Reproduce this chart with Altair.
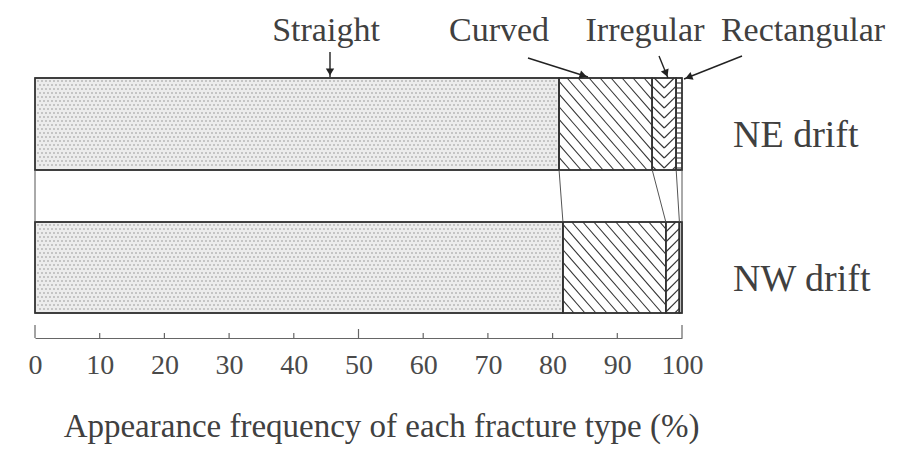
import math
import altair as alt
import pandas as pd

# ---------------- data ----------------
drifts = ["NE drift", "NW drift"]
fracture_types = ["Straight", "Curved", "Irregular", "Rectangular"]
ne_drift = [81.0, 14.4, 3.7, 0.9]
nw_drift = [81.6, 15.9, 2.1, 0.4]
x_ticks = [0, 10, 20, 30, 40, 50, 60, 70, 80, 90, 100]
x_title = "Appearance frequency of each fracture type (%)"

# ---------------- layout (pixels) ----------------
W, H = 647, 330
PX = W / 100.0
ROWS = {"NE drift": (70, 162), "NW drift": (214, 305)}
FONT = "Liberation Serif"
INK = "#333333"
TXT = "#404040"

values = {"NE drift": ne_drift, "NW drift": nw_drift}

# segments
seg_rows = []
for d in drifts:
    yt, yb = ROWS[d]
    x0 = 0.0
    for t, v in zip(fracture_types, values[d]):
        seg_rows.append(dict(drift=d, type=t, x0=x0, x1=x0 + v, yt=yt, yb=yb))
        x0 += v
segs = pd.DataFrame(seg_rows)


def clip(xa, ya, xb, yb, X0, X1, Y0, Y1):
    dx, dy = xb - xa, yb - ya
    t0, t1 = 0.0, 1.0
    for p, q in ((-dx, xa - X0), (dx, X1 - xa), (-dy, ya - Y0), (dy, Y1 - ya)):
        if p == 0:
            if q < 0:
                return None
        else:
            r = q / p
            if p < 0:
                if r > t1:
                    return None
                t0 = max(t0, r)
            else:
                if r < t0:
                    return None
                t1 = min(t1, r)
    if t1 - t0 < 1e-6:
        return None
    return (xa + t0 * dx, ya + t0 * dy, xa + t1 * dx, ya + t1 * dy)


hatch = []


def add(seg):
    if seg is not None:
        xa, ya, xb, yb = seg
        hatch.append(dict(x=xa / PX, y=ya, x2=xb / PX, y2=yb))


def frange(a, b, s):
    out = []
    v = a
    while v <= b:
        out.append(v)
        v += s
    return out


for r in seg_rows:
    X0, X1 = r["x0"] * PX, r["x1"] * PX
    Y0, Y1 = r["yt"], r["yb"]
    h = Y1 - Y0
    if r["type"] == "Curved":
        k, s = 1.15, 11.0
        for c in frange(X0 - h / k, X1, s):
            add(clip(c, Y0, c + h / k, Y1, X0, X1, Y0, Y1))
    elif r["type"] == "Irregular":
        k = 1.0
        if r["drift"] == "NE drift":
            Xm = (X0 + X1) / 2
            for b in frange(Y0, Y1 + k * (X1 - X0), 10.0):
                add(clip(Xm, b, X0, b - k * (Xm - X0), X0, X1, Y0, Y1))
                add(clip(Xm, b, X1, b - k * (X1 - Xm), X0, X1, Y0, Y1))
        else:
            for b in frange(Y0, Y1 + k * (X1 - X0), 10.0):
                add(clip(X0, b, X1, b - k * (X1 - X0), X0, X1, Y0, Y1))
    elif r["type"] == "Rectangular" and (X1 - X0) > 4:
        for yy in frange(Y0 + 5, Y1 - 2, 5.0):
            add((X0, yy, X1, yy))
hatch_df = pd.DataFrame(hatch)

# stipple for straight
dots = []
for r in seg_rows:
    if r["type"] != "Straight":
        continue
    X0, X1 = r["x0"] * PX, r["x1"] * PX
    for j, yy in enumerate(frange(r["yt"] + 3, r["yb"] - 2, 4.0)):
        off = 2.0 if j % 2 else 0.0
        for xx in frange(X0 + 3 + off, X1 - 2, 4.0):
            dots.append(dict(x=xx / PX, y=yy))
dots_df = pd.DataFrame(dots)

# connectors between bars
ne_cum = [0.0]
nw_cum = [0.0]
for a, b in zip(ne_drift, nw_drift):
    ne_cum.append(ne_cum[-1] + a)
    nw_cum.append(nw_cum[-1] + b)
conn_df = pd.DataFrame(dict(x=ne_cum, y=[ROWS["NE drift"][1]] * len(ne_cum),
                            x2=nw_cum, y2=[ROWS["NW drift"][0]] * len(nw_cum)))

# ticks (drawn upward)
tick_len = [13 if v in (0, 100) else (9 if v == 50 else 5) for v in x_ticks]
ticks_df = pd.DataFrame(dict(x=x_ticks, y=[H] * len(x_ticks),
                             y2=[H - L for L in tick_len]))


def px2pct(p):
    return (p - 35) / PX


lab_x = [326, 499, 645, 803]
labels_df = pd.DataFrame(dict(label=fracture_types, x=[px2pct(p) for p in lab_x],
                              y=[33] * 4))
arrow_tail = [(330, 52), (528, 58), (659, 56), (742, 56)]
arrow_tip = [(330, 77), (588, 77), (668, 78), (684, 79)]
arr_rows, head_rows = [], []
for (tx, ty), (hx, hy) in zip(arrow_tail, arrow_tip):
    arr_rows.append(dict(x=px2pct(tx), y=ty - 8, x2=px2pct(hx), y2=hy - 8))
    dx, dy = hx - tx, hy - ty
    L = math.hypot(dx, dy)
    ang = math.degrees(math.atan2(dx, -dy)) % 360
    cx, cy = hx - 5 * dx / L, hy - 5 * dy / L
    head_rows.append(dict(x=px2pct(cx), y=cy - 8, angle=ang))
arrows_df = pd.DataFrame(arr_rows)
heads_df = pd.DataFrame(head_rows)

side_df = pd.DataFrame(dict(label=drifts,
                            y=[(ROWS[d][0] + ROWS[d][1]) / 2 + 23 for d in drifts]))

# ---------------- chart ----------------
xs = alt.Scale(domain=[0, 100], nice=False, zero=False)
ys = alt.Scale(domain=[0, H], reverse=True, nice=False, zero=False)

AX = alt.Axis(values=x_ticks, ticks=False, grid=False, domain=True,
              domainColor="#666666", domainWidth=1.2,
              labelFont=FONT, labelFontSize=28, labelColor="#4a4a4a",
              labelPadding=13, labelFlush=False,
              title=x_title, titleFont=FONT, titleFontSize=33,
              titleFontWeight="normal", titleColor=TXT,
              titleX=346, titleY=98, titleAlign="center",
              titleBaseline="alphabetic")


def X(f):
    return alt.X(f, scale=xs, axis=AX)


def Y(f):
    return alt.Y(f, scale=ys, axis=None)


fill_scale = alt.Scale(domain=fracture_types,
                       range=["#ececec", "#ffffff", "#ffffff", "#ffffff"])

bars = alt.Chart(segs).mark_rect(stroke=INK, strokeWidth=1.4).encode(
    x=X("x0:Q"), x2="x1:Q", y=Y("yt:Q"), y2="yb:Q",
    fill=alt.Fill("type:N", scale=fill_scale, legend=None),
)

stipple = alt.Chart(dots_df).mark_square(size=3, color="#b0b0b0", opacity=1).encode(
    x=X("x:Q"), y=Y("y:Q"))

hatch_layer = alt.Chart(hatch_df).mark_rule(color=INK, strokeWidth=1.1).encode(
    x=X("x:Q"), y=Y("y:Q"), x2="x2:Q", y2="y2:Q")

outline = alt.Chart(segs).mark_rect(stroke=INK, strokeWidth=1.4, fillOpacity=0).encode(
    x=X("x0:Q"), x2="x1:Q", y=Y("yt:Q"), y2="yb:Q")

connectors = alt.Chart(conn_df).mark_rule(color="#555555", strokeWidth=1).encode(
    x=X("x:Q"), y=Y("y:Q"), x2="x2:Q", y2="y2:Q")

tick_layer = alt.Chart(ticks_df).mark_rule(color="#666666", strokeWidth=1.2).encode(
    x=X("x:Q"), y=Y("y:Q"), y2="y2:Q")

top_labels = alt.Chart(labels_df).mark_text(
    font=FONT, fontSize=34, color=TXT, align="center", baseline="alphabetic").encode(
    x=X("x:Q"), y=Y("y:Q"), text="label:N")

arrow_lines = alt.Chart(arrows_df).mark_rule(color="#222222", strokeWidth=1.4).encode(
    x=X("x:Q"), y=Y("y:Q"), x2="x2:Q", y2="y2:Q")

arrow_heads = alt.Chart(heads_df).mark_point(
    shape="triangle-up", size=70, filled=True, color="#222222", opacity=1).encode(
    x=X("x:Q"), y=Y("y:Q"), angle=alt.Angle("angle:Q", scale=None))

side_labels = alt.Chart(side_df).mark_text(
    font=FONT, fontSize=38, color=TXT, align="left", baseline="alphabetic").encode(
    x=alt.value(698), y=Y("y:Q"), text="label:N")

chart = alt.layer(
    bars, stipple, hatch_layer, outline, connectors, tick_layer,
    top_labels, arrow_lines, arrow_heads, side_labels
).properties(
    width=W, height=H,
    autosize=alt.AutoSizeParams(type="none"),
    padding={"left": 27, "top": 0, "right": 212, "bottom": 107},
    background="white",
).configure_view(stroke=None)

chart.save("out.html", embed_options={"renderer": "svg", "actions": False})
